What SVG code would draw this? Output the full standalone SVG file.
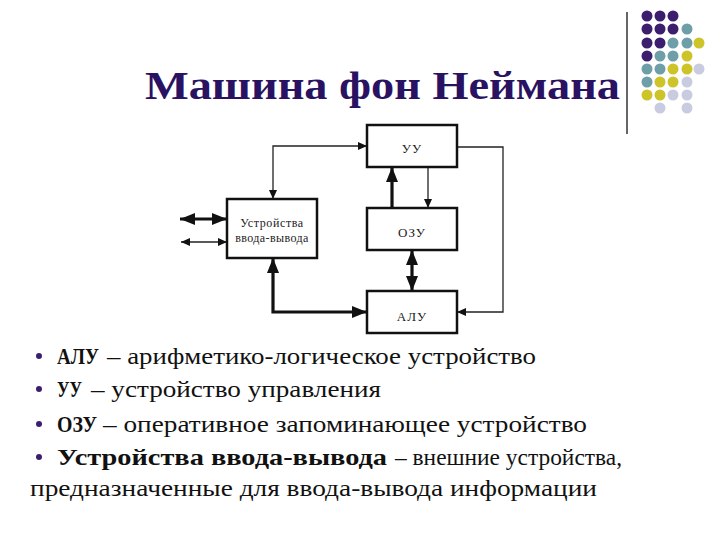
<svg xmlns="http://www.w3.org/2000/svg" width="720" height="540" viewBox="0 0 720 540">
<style>
.box{fill:#fff;stroke:#111;stroke-width:2.5}
.thin{fill:none;stroke:#222;stroke-width:1.3}
.thick{fill:none;stroke:#111;stroke-width:3.2}
.dp{fill:#3c1e6e}.dt{fill:#6e9ea8}.dy{fill:#cdc42a}.dg{fill:#c9cbe0}
</style>
<defs>
<marker id="ah" markerUnits="userSpaceOnUse" markerWidth="9" markerHeight="8" refX="9" refY="4" orient="auto-start-reverse"><path d="M0,0 L9,4 L0,8 z" fill="#111"/></marker>
<marker id="AH" markerUnits="userSpaceOnUse" markerWidth="15" markerHeight="12" refX="15" refY="6" orient="auto-start-reverse"><path d="M0,0 L15,6 L0,12 z" fill="#111"/></marker>
</defs>
<rect width="720" height="540" fill="#fff"/>

<g id="title">
<text x="145" y="99" font-family="'Liberation Serif',serif" font-size="41" font-weight="bold" fill="#2a1262" textLength="475" lengthAdjust="spacingAndGlyphs">Машина фон Неймана</text>
</g>
<g id="decor">
<line x1="627" y1="12" x2="627" y2="134" stroke="#333" stroke-width="1.5"/>
<circle class="dp" cx="647" cy="16" r="5.5"/><circle class="dp" cx="660" cy="16" r="5.5"/><circle class="dp" cx="673" cy="16" r="5.5"/>
<circle class="dp" cx="647" cy="29" r="5.5"/><circle class="dp" cx="660" cy="29" r="5.5"/><circle class="dp" cx="673" cy="29" r="5.5"/><circle class="dt" cx="687" cy="29" r="5.5"/>
<circle class="dp" cx="647" cy="43" r="5.5"/><circle class="dp" cx="660" cy="43" r="5.5"/><circle class="dt" cx="673" cy="43" r="5.5"/><circle class="dt" cx="687" cy="43" r="5.5"/><circle class="dy" cx="699" cy="43" r="5.5"/>
<circle class="dp" cx="647" cy="56" r="5.5"/><circle class="dt" cx="660" cy="56" r="5.5"/><circle class="dt" cx="673" cy="56" r="5.5"/><circle class="dy" cx="687" cy="56" r="5.5"/>
<circle class="dt" cx="647" cy="69" r="5.5"/><circle class="dt" cx="660" cy="69" r="5.5"/><circle class="dy" cx="673" cy="69" r="5.5"/><circle class="dy" cx="687" cy="69" r="5.5"/><circle class="dg" cx="699" cy="69" r="5.5"/>
<circle class="dt" cx="647" cy="82" r="5.5"/><circle class="dy" cx="660" cy="82" r="5.5"/><circle class="dy" cx="673" cy="82" r="5.5"/><circle class="dg" cx="687" cy="82" r="5.5"/>
<circle class="dy" cx="647" cy="95" r="5.5"/><circle class="dy" cx="660" cy="95" r="5.5"/><circle class="dg" cx="673" cy="95" r="5.5"/><circle class="dg" cx="687" cy="95" r="5.5"/>
<circle class="dg" cx="660" cy="108" r="5.5"/><circle class="dg" cx="687" cy="108" r="5.5"/>
</g>

<g id="connectors">
<path class="thin" d="M273,199 V146 H367" marker-start="url(#ah)" marker-end="url(#ah)"/>
<path class="thin" d="M428,167 V208" marker-end="url(#ah)"/>
<path class="thick" d="M392,208 V167" marker-end="url(#AH)"/>
<path class="thick" d="M412,250 V291" marker-start="url(#AH)" marker-end="url(#AH)"/>
<path class="thick" d="M273,258 V312 H367" marker-start="url(#AH)" marker-end="url(#AH)"/>
<path class="thin" d="M457,147 H503 V312 H457" stroke="#555" marker-end="url(#ah)"/>
<path class="thick" d="M180,219 H227" marker-start="url(#AH)" marker-end="url(#AH)"/>
<path class="thin" d="M181,242 H227" marker-start="url(#ah)" marker-end="url(#ah)"/>
</g>

<g id="uu"><rect class="box" x="367" y="125" width="90" height="42"/><text x="412" y="153" font-family="'Liberation Serif',serif" font-size="13" fill="#222" text-anchor="middle" letter-spacing="1">УУ</text></g>
<g id="ozu"><rect class="box" x="367" y="208" width="90" height="42"/><text x="412" y="237" font-family="'Liberation Serif',serif" font-size="13" fill="#222" text-anchor="middle" letter-spacing="1">ОЗУ</text></g>
<g id="alu"><rect class="box" x="367" y="291" width="90" height="42"/><text x="412" y="321" font-family="'Liberation Serif',serif" font-size="13" fill="#222" text-anchor="middle" letter-spacing="1">АЛУ</text></g>
<g id="io"><rect class="box" x="227" y="199" width="90" height="59"/><text x="272" y="227" font-family="'Liberation Serif',serif" font-size="12" fill="#222" text-anchor="middle" letter-spacing="0.6">Устройства</text><text x="272" y="242" font-family="'Liberation Serif',serif" font-size="12" fill="#222" text-anchor="middle" letter-spacing="0.4">ввода-вывода</text></g>

<g id="legend">
<circle class="dp" cx="39" cy="356" r="3"/>
<circle class="dp" cx="39" cy="389" r="3"/>
<circle class="dp" cx="39" cy="424" r="3"/>
<circle class="dp" cx="39" cy="457" r="3"/>
<text x="57" y="364" font-family="'Liberation Serif',serif" font-size="23.5" font-weight="bold" fill="#111" textLength="42" lengthAdjust="spacingAndGlyphs">АЛУ</text>
<text x="107" y="364" font-family="'Liberation Serif',serif" font-size="23.5" fill="#111" textLength="429" lengthAdjust="spacingAndGlyphs">– арифметико-логическое устройство</text>
<text x="57" y="397" font-family="'Liberation Serif',serif" font-size="23.5" font-weight="bold" fill="#111" textLength="25" lengthAdjust="spacingAndGlyphs">УУ</text>
<text x="91" y="397" font-family="'Liberation Serif',serif" font-size="23.5" fill="#111" textLength="290" lengthAdjust="spacingAndGlyphs">– устройство управления</text>
<text x="57" y="432" font-family="'Liberation Serif',serif" font-size="23.5" font-weight="bold" fill="#111" textLength="40" lengthAdjust="spacingAndGlyphs">ОЗУ</text>
<text x="103" y="432" font-family="'Liberation Serif',serif" font-size="23.5" fill="#111" textLength="484" lengthAdjust="spacingAndGlyphs">– оперативное запоминающее устройство</text>
<text x="57" y="465" font-family="'Liberation Serif',serif" font-size="23.5" font-weight="bold" fill="#111" textLength="330" lengthAdjust="spacingAndGlyphs">Устройства ввода-вывода</text>
<text x="395" y="465" font-family="'Liberation Serif',serif" font-size="23.5" fill="#111" textLength="227" lengthAdjust="spacingAndGlyphs">– внешние устройства,</text>
<text x="30" y="496" font-family="'Liberation Serif',serif" font-size="23.5" fill="#111" textLength="567" lengthAdjust="spacingAndGlyphs">предназначенные для ввода-вывода информации</text>
</g>
</svg>
